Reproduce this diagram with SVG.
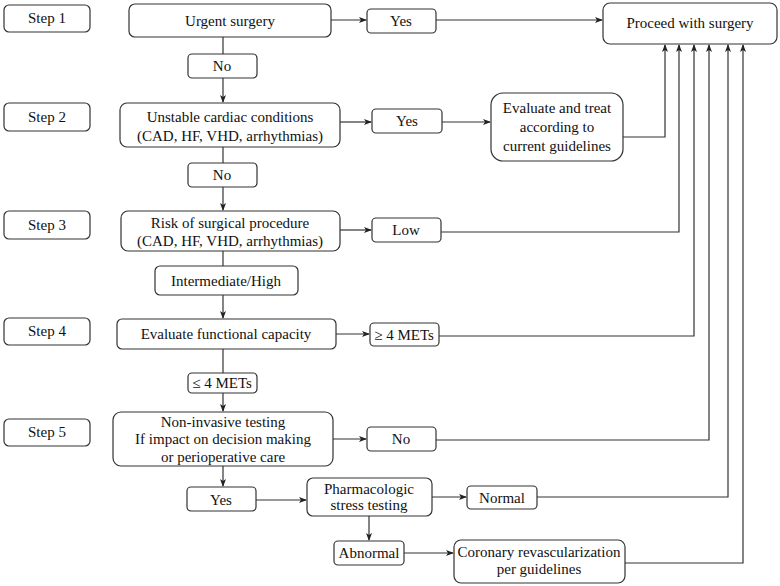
<svg xmlns="http://www.w3.org/2000/svg" width="780" height="586" viewBox="0 0 780 586">
<defs>
<marker id="ah" markerWidth="8" markerHeight="6" refX="7" refY="3" orient="auto" markerUnits="userSpaceOnUse">
<path d="M0,0 L8,3 L0,6 L2,3 Z" fill="#222"/>
</marker>
</defs>
<style>
rect{fill:#fff;stroke:#333;stroke-width:1.2}
text{font-family:"Liberation Serif","Times New Roman",serif;font-size:15px;fill:#111;text-anchor:middle}
.c{fill:none;stroke:#333;stroke-width:1.2}
.a{marker-end:url(#ah)}
</style>
<rect width="780" height="586" style="fill:#fff;stroke:none"/>
<g id="connectors">
<path class="c a" d="M331,20 H366"/>
<path class="c a" d="M436,20 H602"/>
<path class="c" d="M223,37 V54"/>
<path class="c a" d="M223,78 V102"/>
<path class="c a" d="M340,122 H371"/>
<path class="c a" d="M442,122 H490"/>
<path class="c a" d="M623,137 H665 V45"/>
<path class="c" d="M223,147 V163"/>
<path class="c a" d="M223,187 V210"/>
<path class="c a" d="M340,230 H371"/>
<path class="c a" d="M441,232 H679 V45"/>
<path class="c" d="M223,251 V266"/>
<path class="c a" d="M223,295 V318"/>
<path class="c a" d="M336,334 H369"/>
<path class="c a" d="M439,336 H694 V45"/>
<path class="c" d="M223,349 V373"/>
<path class="c a" d="M223,392 V411"/>
<path class="c a" d="M333,439 H366"/>
<path class="c a" d="M436,440 H709 V45"/>
<path class="c a" d="M223,466 V486"/>
<path class="c a" d="M256,500 H306"/>
<path class="c a" d="M432,497 H466"/>
<path class="c a" d="M537,497 H728 V45"/>
<path class="c a" d="M369,516 V540"/>
<path class="c a" d="M404,553 H453"/>
<path class="c a" d="M625,563 H743 V45"/>
</g>
<g id="step1"><rect x="4" y="5" width="86" height="27" rx="5"/><text x="47" y="23">Step 1</text></g>
<g id="step2"><rect x="4" y="103" width="86" height="28" rx="5"/><text x="47" y="122">Step 2</text></g>
<g id="step3"><rect x="4" y="211" width="86" height="28" rx="5"/><text x="47" y="230">Step 3</text></g>
<g id="step4"><rect x="4" y="318" width="86" height="27" rx="5"/><text x="47" y="336">Step 4</text></g>
<g id="step5"><rect x="4" y="419" width="86" height="27" rx="5"/><text x="47" y="437">Step 5</text></g>
<g id="urgent"><rect x="129" y="4" width="202" height="33" rx="6"/><text x="230" y="26">Urgent surgery</text></g>
<g id="yes1"><rect x="367" y="9" width="69" height="24" rx="4"/><text x="401" y="26">Yes</text></g>
<g id="proceed"><rect x="603" y="3" width="174" height="41" rx="7"/><text x="690" y="28">Proceed with surgery</text></g>
<g id="no1"><rect x="188" y="54" width="69" height="24" rx="4"/><text x="222" y="71">No</text></g>
<g id="unstable"><rect x="120" y="103" width="220" height="44" rx="7"/><text x="230" y="122">Unstable cardiac conditions</text><text x="230" y="141">(CAD, HF, VHD, arrhythmias)</text></g>
<g id="yes2"><rect x="372" y="109" width="70" height="24" rx="4"/><text x="407" y="126">Yes</text></g>
<g id="evaltreat"><rect x="491" y="93" width="132" height="68" rx="12"/><text x="557" y="113">Evaluate and treat</text><text x="557" y="132">according to</text><text x="557" y="151">current guidelines</text></g>
<g id="no2"><rect x="188" y="163" width="69" height="24" rx="4"/><text x="222" y="180">No</text></g>
<g id="risk"><rect x="121" y="211" width="219" height="40" rx="7"/><text x="230" y="228">Risk of surgical procedure</text><text x="230" y="246">(CAD, HF, VHD, arrhythmias)</text></g>
<g id="low"><rect x="372" y="218" width="69" height="24" rx="4"/><text x="406" y="235">Low</text></g>
<g id="interhigh"><rect x="155" y="266" width="143" height="29" rx="5"/><text x="226" y="286">Intermediate/High</text></g>
<g id="funccap"><rect x="117" y="319" width="219" height="30" rx="5"/><text x="226" y="339">Evaluate functional capacity</text></g>
<g id="ge4"><rect x="370" y="323" width="69" height="23" rx="4"/><text x="404" y="340">≥ 4 METs</text></g>
<g id="le4"><rect x="188" y="373" width="69" height="20" rx="4"/><text x="222" y="388">≤ 4 METs</text></g>
<g id="noninv"><rect x="113" y="412" width="220" height="54" rx="8"/><text x="223" y="427">Non-invasive testing</text><text x="223" y="444">If impact on decision making</text><text x="223" y="462">or perioperative care</text></g>
<g id="no3"><rect x="367" y="427" width="69" height="24" rx="4"/><text x="401" y="444">No</text></g>
<g id="yes3"><rect x="187" y="487" width="69" height="24" rx="4"/><text x="221" y="505">Yes</text></g>
<g id="pharm"><rect x="307" y="478" width="125" height="38" rx="6"/><text x="369" y="494">Pharmacologic</text><text x="369" y="510">stress testing</text></g>
<g id="normal"><rect x="467" y="486" width="70" height="23" rx="4"/><text x="502" y="503">Normal</text></g>
<g id="abnormal"><rect x="334" y="541" width="70" height="24" rx="4"/><text x="369" y="558">Abnormal</text></g>
<g id="coronary"><rect x="454" y="540" width="171" height="43" rx="7"/><text x="539" y="557">Coronary revascularization</text><text x="539" y="574">per guidelines</text></g>
</svg>
